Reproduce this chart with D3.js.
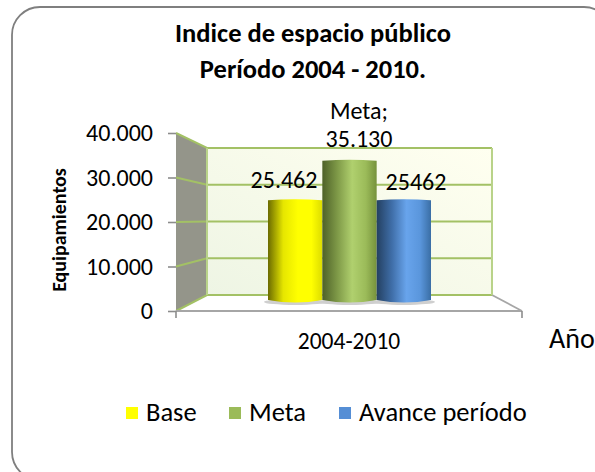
<!DOCTYPE html>
<html>
<head>
<meta charset="utf-8">
<title>Indice de espacio público</title>
<script src="https://d3js.org/d3.v7.min.js"></script>
<style>
  html, body { margin: 0; padding: 0; background: #fff; overflow: hidden; }
  svg { display: block; }
  text { font-family: Carlito, Lato, "Open Sans", sans-serif; fill: #000; }
</style>
</head>
<body>
<svg id="chart" width="595" height="472"></svg>
<script>
// data
var categories = ["2004-2010"];
var seriesNames = ["Base", "Meta", "Avance período"];
var seriesValues = [25462, 35130, 25462];
var valueLabels = [["25.462"], ["Meta;", "35.130"], ["25462"]];
var ticks = [0, 10000, 20000, 30000, 40000];
var tickLabels = ["0", "10.000", "20.000", "30.000", "40.000"];

var gradStops = [0, 0.28, 0.55, 0.8, 1];
var seriesColors = [
  ["#6b6b00", "#e6e600", "#ffff00", "#ffff00", "#dcdc00"],
  ["#4e6128", "#7f9a48", "#b0d06e", "#9bbb59", "#76923c"],
  ["#244061", "#3f6ea8", "#68a4ec", "#5a96dc", "#3a6ea5"]
];
var legendColors = ["#ffff00", "#9bbb59", "#558ed5"];

var svg = d3.select("#chart");
var defs = svg.append("defs");

// frame runs off the right and bottom of the picture
svg.append("rect")
  .attr("x", 12).attr("y", 7)
  .attr("width", 600).attr("height", 473)
  .attr("rx", 28).attr("ry", 28)
  .attr("fill", "#fff").attr("stroke", "#7f7f7f").attr("stroke-width", 1.8);

// title
svg.append("text").attr("x", 313).attr("y", 42)
  .attr("text-anchor", "middle").attr("font-size", 26.5).attr("font-weight", "bold")
  .text("Indice de espacio público");
svg.append("text").attr("x", 313).attr("y", 78)
  .attr("text-anchor", "middle").attr("font-size", 26.5).attr("font-weight", "bold")
  .text("Período 2004 - 2010.");

// scales: front plane, back wall and the bars that stand between them
var yFront = d3.scaleLinear().domain([0, 40000]).range([311, 133]);
var yBack = d3.scaleLinear().domain([0, 40000]).range([295, 148]);
var yBar = d3.scaleLinear().domain([0, 40000]).range([303, 140]);
var x1 = d3.scaleBand().domain(seriesNames).range([268, 431]);
var backLeft = 207, backRight = 492, frontLeft = 176, frontRight = 522;

// side wall
svg.append("polygon")
  .attr("points", [[frontLeft, yFront(0)], [frontLeft, yFront(40000)], [backLeft, yBack(40000)], [backLeft, yBack(0)]].join(" "))
  .attr("fill", "#94958a");

// back wall
var backGrad = defs.append("linearGradient").attr("id", "back")
  .attr("x1", 1).attr("x2", 0).attr("y1", 0).attr("y2", 1);
backGrad.append("stop").attr("offset", 0).attr("stop-color", "#fffff0");
backGrad.append("stop").attr("offset", 1).attr("stop-color", "#eef5e4");
svg.append("rect")
  .attr("x", backLeft).attr("y", yBack(40000))
  .attr("width", backRight - backLeft).attr("height", yBack(0) - yBack(40000))
  .attr("fill", "url(#back)");

// floor edge on the right
svg.append("line")
  .attr("x1", backRight).attr("y1", yBack(0)).attr("x2", frontRight).attr("y2", yFront(0))
  .attr("stroke", "#a6a6a6").attr("stroke-width", 1.8);

// gridlines on the wall and back
ticks.forEach(function (t) {
  svg.append("polyline")
    .attr("points", [[frontLeft, yFront(t)], [backLeft, yBack(t)], [backRight, yBack(t)]].join(" "))
    .attr("fill", "none").attr("stroke", "#a3c165").attr("stroke-width", 2);
});
[backLeft, backRight].forEach(function (xx) {
  svg.append("line").attr("x1", xx).attr("x2", xx).attr("y1", yBack(40000)).attr("y2", yBack(0))
    .attr("stroke", "#b9d389").attr("stroke-width", 2);
});

// axis lines
svg.append("g").attr("transform", "translate(" + frontLeft + ",0)")
  .call(d3.axisLeft(yFront).tickValues(ticks).tickFormat(function (d, i) { return tickLabels[i]; }).tickSize(8).tickPadding(15))
  .call(function (g) {
    g.select(".domain").remove();
    g.selectAll("line").attr("stroke", "#8c8c8c").attr("stroke-width", 1.6);
    g.selectAll("text").attr("font-size", 24).attr("font-family", "Carlito, Lato, 'Open Sans', sans-serif");
  });
svg.append("line").attr("x1", frontLeft).attr("x2", frontRight).attr("y1", yFront(0)).attr("y2", yFront(0))
  .attr("stroke", "#a6a6a6").attr("stroke-width", 2);
[frontLeft, frontRight].forEach(function (xx) {
  svg.append("line").attr("x1", xx).attr("x2", xx).attr("y1", yFront(0)).attr("y2", yFront(0) + 7)
    .attr("stroke", "#8c8c8c").attr("stroke-width", 1.6);
});

// cylinders
seriesNames.forEach(function (name, i) {
  var g = defs.append("linearGradient").attr("id", "cyl" + i);
  seriesColors[i].forEach(function (c, k) {
    g.append("stop").attr("offset", gradStops[k]).attr("stop-color", c);
  });
});
var bars = svg.append("g").selectAll("g").data(seriesValues).enter().append("g");
// soft shadow under each bar
bars.append("ellipse")
  .attr("cx", function (d, i) { return x1(seriesNames[i]) + x1.bandwidth() / 2; })
  .attr("cy", yBar(0) - 1)
  .attr("rx", x1.bandwidth() / 2 + 4)
  .attr("ry", 3)
  .attr("fill", "#cfcfcf");
bars.append("path")
  .attr("d", function (d, i) {
    var l = x1(seriesNames[i]), r = l + x1.bandwidth(), top = yBar(d), bottom = yBar(0);
    return "M" + l + "," + (top + 1) + "Q" + (l + r) / 2 + "," + (top - 1) + " " + r + "," + (top + 1) +
      "L" + r + "," + (bottom - 3) + "Q" + (l + r) / 2 + "," + (bottom + 2) + " " + l + "," + (bottom - 3) + "Z";
  })
  .attr("fill", function (d, i) { return "url(#cyl" + i + ")"; });

// value labels
var labelX = [284, 359, 416];
var labelY = [[188], [119, 147], [190]];
valueLabels.forEach(function (lines, i) {
  lines.forEach(function (s, k) {
    svg.append("text").attr("x", labelX[i]).attr("y", labelY[i][k])
      .attr("text-anchor", "middle").attr("font-size", 24).text(s);
  });
});

// axis titles
svg.append("text").attr("transform", "translate(66,230) rotate(-90)")
  .attr("text-anchor", "middle").attr("font-size", 20).attr("font-weight", "bold").text("Equipamientos");
svg.append("text").attr("x", 349).attr("y", 349)
  .attr("text-anchor", "middle").attr("font-size", 23.5).text(categories[0]);
svg.append("text").attr("x", 549).attr("y", 348).attr("font-size", 28).text("Año");

// legend
var legendSwatchX = [126, 229, 339];
var legend = svg.append("g").selectAll("g").data(seriesNames).enter().append("g");
legend.append("rect")
  .attr("x", function (d, i) { return legendSwatchX[i]; }).attr("y", 407)
  .attr("width", 12).attr("height", 12)
  .attr("fill", function (d, i) { return legendColors[i]; });
legend.append("text")
  .attr("x", function (d, i) { return legendSwatchX[i] + 20; }).attr("y", 421)
  .attr("font-size", 26.5).text(function (d) { return d; });
</script>
</body>
</html>
